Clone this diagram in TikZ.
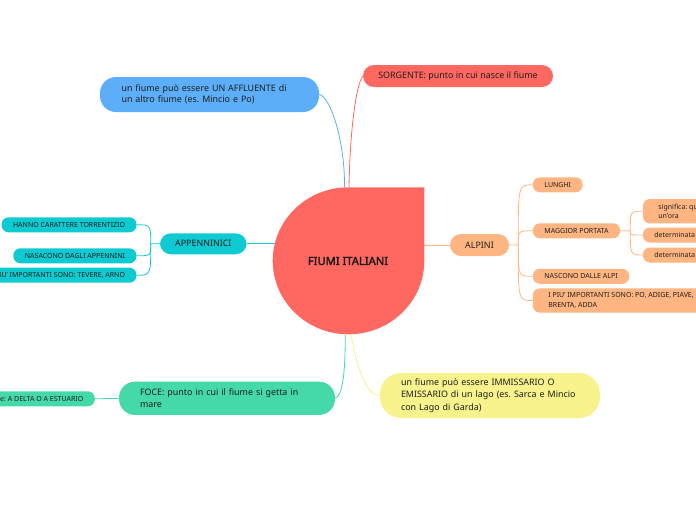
\documentclass[tikz,border=0pt]{standalone}
\usepackage{fontspec}
\setmainfont{Noto Sans}[AutoFakeBold=2.2]
\usepackage{xcolor}
\usetikzlibrary{backgrounds}
\frenchspacing

\definecolor{ctrred}{HTML}{FF6860}
\definecolor{affblue}{HTML}{5BAEF7}
\definecolor{appcyan}{HTML}{10CAD2}
\definecolor{alppeach}{HTML}{FFB581}
\definecolor{focegreen}{HTML}{45D8A8}
\definecolor{immyellow}{HTML}{F7F28B}

\begin{document}
\begin{tikzpicture}[x=1pt,y=-1pt,
        topic/.style={rounded corners=11pt, minimum height=22pt, inner ysep=1pt, text=black!88,
            font=\fontsize{8.9}{12}\selectfont},
        leaf/.style={rounded corners=7pt, minimum height=15pt, inner xsep=11.5pt, inner ysep=0pt,
            text=black!88, font=\fontsize{7}{9.4}\selectfont},
        link/.style={line width=0.8pt}]
        \useasboundingbox (0,0) rectangle (696,520);
        \clip (0,0) rectangle (696,520);

        % central topic
        \fill[ctrred] (272.7,260.8) arc[start angle=180, end angle=270, x radius=75.8, y radius=73.5]
            -- (424.3,187.3) -- (424.3,260.8)
            arc[start angle=0, end angle=180, x radius=75.8, y radius=73.5] -- cycle;
        \node[minimum width=151.6pt, minimum height=147pt, inner sep=0pt,
            font=\fontsize{11.2}{12}\selectfont\bfseries, text=black!90] (ctr) at (348,261) {FIUMI ITALIANI};

        \node[topic, fill=ctrred, minimum width=190pt] (sorg) at (458,76) {SORGENTE: punto in cui nasce il fiume};
        \node[topic, fill=affblue, rounded corners=16pt, minimum height=35pt, inner xsep=21.5pt,
            text width=176pt, align=left, font=\fontsize{8.9}{11.5}\selectfont] (aff) at (209.5,94.5)
            {un fiume può essere UN AFFLUENTE di\\un altro fiume (es. Mincio e Po)};
        \node[topic, fill=focegreen, rounded corners=16pt, minimum height=33.3pt, inner xsep=21pt,
            text width=174pt, align=left, font=\fontsize{8.9}{11.5}\selectfont] (foce) at (227,398.3)
            {FOCE: punto in cui il fiume si getta in\\mare};
        \node[topic, fill=immyellow, rounded corners=21pt, minimum height=45pt, inner xsep=21pt,
            text width=178pt, align=left, font=\fontsize{8.9}{12.3}\selectfont] (imm) at (490,395.5)
            {un fiume può essere IMMISSARIO O\\EMISSARIO di un lago (es. Sarca e Mincio\\con Lago di Garda)};
        \node[topic, fill=appcyan, minimum width=86.7pt, minimum height=21pt] (app) at (203.3,243.8) {APPENNINICI};
        \node[topic, fill=alppeach, minimum width=59pt] (alp) at (479.5,245) {ALPINI};

        \node[leaf, fill=appcyan, anchor=east] (torr) at (136.7,224.8) {HANNO CARATTERE TORRENTIZIO};
        \node[leaf, fill=appcyan, anchor=east] (nasc) at (136.7,255.8) {NASACONO DAGLI APPENNINI};
        \node[leaf, fill=appcyan, anchor=east] (tev) at (136.7,275.2) {I PIU' IMPORTANTI SONO: TEVERE, ARNO};
        \node[leaf, fill=focegreen, anchor=east] (mare) at (95,398.8) {re: A DELTA O A ESTUARIO};

        \node[leaf, fill=alppeach, anchor=west] (lung) at (532.7,184.8) {LUNGHI};
        \node[leaf, fill=alppeach, anchor=west] (port) at (532.7,230.8) {MAGGIOR PORTATA};
        \node[leaf, fill=alppeach, anchor=west] (nalp) at (532.7,276.3) {NASCONO DALLE ALPI};
        \node[leaf, fill=alppeach, anchor=west, minimum height=24.3pt, inner xsep=15.5pt, align=left]
            (alpimp) at (532.7,300.5) {I PIU' IMPORTANTI SONO: PO, ADIGE, PIAVE,\\BRENTA, ADDA};
        \node[leaf, fill=alppeach, anchor=west, minimum height=24.3pt, inner xsep=15.5pt, align=left]
            (sig) at (642.7,211.2) {significa: qu\\un'ora};
        \node[leaf, fill=alppeach, anchor=west] (det1) at (642.7,235) {determinata};
        \node[leaf, fill=alppeach, anchor=west] (det2) at (642.7,255) {determinata};

        \coordinate (apphub) at ([xshift=-9pt]app.west);
        \coordinate (alphub) at ([xshift=9pt]alp.east);
        \coordinate (porthub) at ([xshift=10pt]port.east);

        \begin{scope}[on background layer]
            \draw[link, affblue] ([xshift=-3.5pt]ctr.north) .. controls (345,140) and (330,96) .. (aff.east);
            \draw[link, ctrred] ([xshift=1pt]ctr.north) .. controls (350,130) and (356,85) .. (sorg.west);
            \draw[link, focegreen] ([xshift=-2.8pt]ctr.south) .. controls (345.5,375) and (342,396) .. (foce.east);
            \draw[link, immyellow] ([xshift=3.2pt]ctr.south) .. controls (356,365) and (366,396) .. (imm.west);
            \draw[link, appcyan] (app.east) -- ([xshift=12pt]ctr.west |- app.east);
            \draw[link, alppeach] (alp.west) -- ([xshift=-10pt]ctr.east |- alp.west);
            \draw[link, focegreen] (foce.west) -- (mare.east);

            \draw[link, appcyan] (app.west) -- (apphub) .. controls (apphub |- torr.east) .. (torr.east);
            \draw[link, appcyan] (apphub) .. controls (apphub |- nasc.east) .. (nasc.east);
            \draw[link, appcyan] (apphub) .. controls (apphub |- tev.east) .. (tev.east);

            \draw[link, alppeach] (alp.east) -- (alphub) .. controls (alphub |- lung.west) .. (lung.west);
            \draw[link, alppeach] (alphub) .. controls (alphub |- port.west) .. (port.west);
            \draw[link, alppeach] (alphub) .. controls (alphub |- nalp.west) .. (nalp.west);
            \draw[link, alppeach] (alphub) .. controls (alphub |- alpimp.west) .. (alpimp.west);

            \draw[link, alppeach] (port.east) -- (porthub) .. controls (porthub |- sig.west) .. (sig.west);
            \draw[link, alppeach] (porthub) .. controls (porthub |- det1.west) .. (det1.west);
            \draw[link, alppeach] (porthub) .. controls (porthub |- det2.west) .. (det2.west);
        \end{scope}
    \end{tikzpicture}
\end{document}
